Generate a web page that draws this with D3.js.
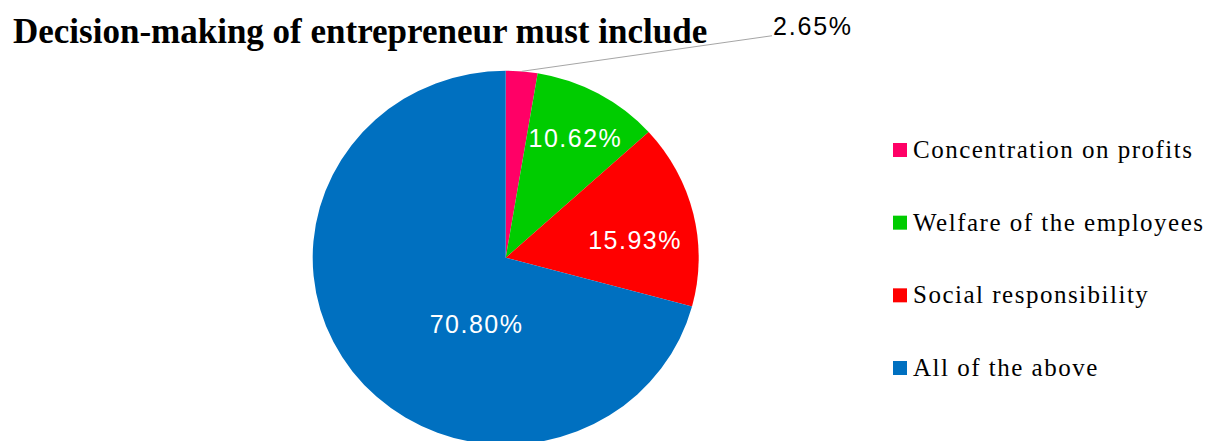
<!DOCTYPE html>
<html>
<head>
<meta charset="utf-8">
<script src="https://cdn.jsdelivr.net/npm/d3@7"></script>
<style>
  body { margin: 0; background: #fff; }
  svg { display: block; }
</style>
</head>
<body>
<svg></svg>
<script>
// data
const categories = ['Concentration on profits', 'Welfare of the employees', 'Social responsibility', 'All of the above'];
const values = [2.65, 10.62, 15.93, 70.80];
const labels = ['2.65%', '10.62%', '15.93%', '70.80%'];
const colors = ['#FF0066', '#00CC00', '#FF0000', '#0070C0'];
const title = 'Decision-making of entrepreneur must include';

// canvas
let width = 1210;
let height = 441;
let cx = 505.7;
let cy = 257.7;
let radius = 193;
let squash = 0.969;   // pie is a touch flatter than round in the picture

// label placement (degrees offset from slice middle, radius fraction)
const labelShift = [49.3 - 4.77, 0.8, 5.5, -29.5];
const labelDist = [1.82, 0.735, 0.677, 0.385];

let svg = d3.select('svg')
    .attr('width', width)
    .attr('height', height);

svg.append('text')
    .attr('x', 13)
    .attr('y', 43)
    .attr('font-family', '"Liberation Serif", "Times New Roman", serif')
    .attr('font-weight', 'bold')
    .attr('font-size', 35)
    .attr('fill', '#000')
    .text(title);

let pie = d3.pie().sort(null).value(d => d);
let arcs = pie(values);
let arc = d3.arc().innerRadius(0).outerRadius(radius);

let g = svg.append('g')
    .attr('transform', `translate(${cx},${cy}) scale(1,${squash})`);

g.selectAll('path')
    .data(arcs)
    .enter()
    .append('path')
    .attr('d', arc)
    .attr('fill', (d, i) => colors[i]);

// polar point -> page coords
let polar = (angle, r) => [cx + Math.sin(angle) * r, cy - Math.cos(angle) * r * squash];
let mid = d => (d.startAngle + d.endAngle) / 2;

let labelPos = arcs.map((d, i) => polar(mid(d) + labelShift[i] * Math.PI / 180, labelDist[i] * radius));

// leader line for the small slice
let small = arcs[0];
let p0 = polar(mid(small), radius);
let p1 = labelPos[0];
svg.append('line')
    .attr('x1', p0[0]).attr('y1', p0[1])
    .attr('x2', p1[0]).attr('y2', p1[1])
    .attr('stroke', '#A6A6A6')
    .attr('stroke-width', 1);

svg.append('text')
    .attr('x', p1[0] + 1)
    .attr('y', p1[1] - 1)
    .attr('font-family', '"Liberation Sans", Arial, sans-serif')
    .attr('font-size', 25)
    .attr('letter-spacing', 1.8)
    .attr('fill', '#000')
    .text(labels[0]);

svg.selectAll('text.inlabel')
    .data(arcs.slice(1))
    .enter()
    .append('text')
    .attr('class', 'inlabel')
    .attr('x', (d, i) => labelPos[i + 1][0])
    .attr('y', (d, i) => labelPos[i + 1][1])
    .attr('text-anchor', 'middle')
    .attr('dominant-baseline', 'central')
    .attr('font-family', '"Liberation Sans", Arial, sans-serif')
    .attr('font-size', 25)
    .attr('letter-spacing', 1.5)
    .attr('fill', '#fff')
    .text((d, i) => labels[i + 1]);

// legend
let legendY = d3.scalePoint()
    .domain(categories)
    .range([150, 368]);

let legend = svg.selectAll('g.legend')
    .data(categories)
    .enter()
    .append('g')
    .attr('class', 'legend')
    .attr('transform', d => `translate(893,${legendY(d)})`);

legend.append('rect')
    .attr('x', 0)
    .attr('y', -7)
    .attr('width', 14)
    .attr('height', 14)
    .attr('fill', (d, i) => colors[i]);

legend.append('text')
    .attr('x', 20)
    .attr('y', 8)
    .attr('font-family', '"Liberation Serif", "Times New Roman", serif')
    .attr('font-size', 25)
    .attr('letter-spacing', 1.5)
    .attr('fill', '#000')
    .text(d => d);
</script>
</body>
</html>
